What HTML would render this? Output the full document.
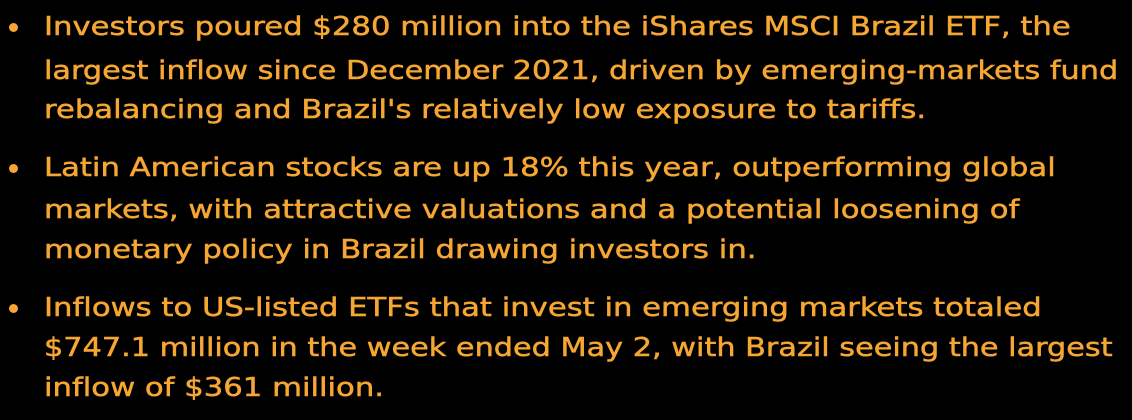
<!DOCTYPE html>
<html><head><meta charset="utf-8"><style>
html,body{margin:0;padding:0;background:#000;width:1132px;height:420px;overflow:hidden}
body{font-family:"DejaVu Sans","Liberation Sans",sans-serif;color:#f6a633;font-size:26px;font-variant-ligatures:none}
.b{position:absolute;left:0;width:1132px}
.l{position:absolute;left:44px;white-space:nowrap;line-height:40px;height:40px;transform:scaleX(1.18);transform-origin:0 50%;-webkit-text-stroke:0.5px #f6a633}
.dot{position:absolute;left:9px;width:9px;height:9px;border-radius:50%;background:#f6a633}
</style></head><body>
<div class="b">
<div class="dot" style="top:23px"></div>
<div class="l" style="top:7px">Investors poured $280 million into the iShares MSCI Brazil ETF, the</div>
<div class="l" style="top:51px;transform:scaleX(1.165)">largest inflow since December 2021, driven by emerging-markets fund</div>
<div class="l" style="top:90px">rebalancing and Brazil's relatively low exposure to tariffs.</div>
</div>
<div class="b">
<div class="dot" style="top:164px"></div>
<div class="l" style="top:148px">Latin American stocks are up 18% this year, outperforming global</div>
<div class="l" style="top:190px">markets, with attractive valuations and a potential loosening of</div>
<div class="l" style="top:230px">monetary policy in Brazil drawing investors in.</div>
</div>
<div class="b">
<div class="dot" style="top:304px"></div>
<div class="l" style="top:288px">Inflows to US-listed ETFs that invest in emerging markets totaled</div>
<div class="l" style="top:328px;transform:scaleX(1.165)">$747.1 million in the week ended May 2, with Brazil seeing the largest</div>
<div class="l" style="top:368px">inflow of $361 million.</div>
</div>
</body></html>
